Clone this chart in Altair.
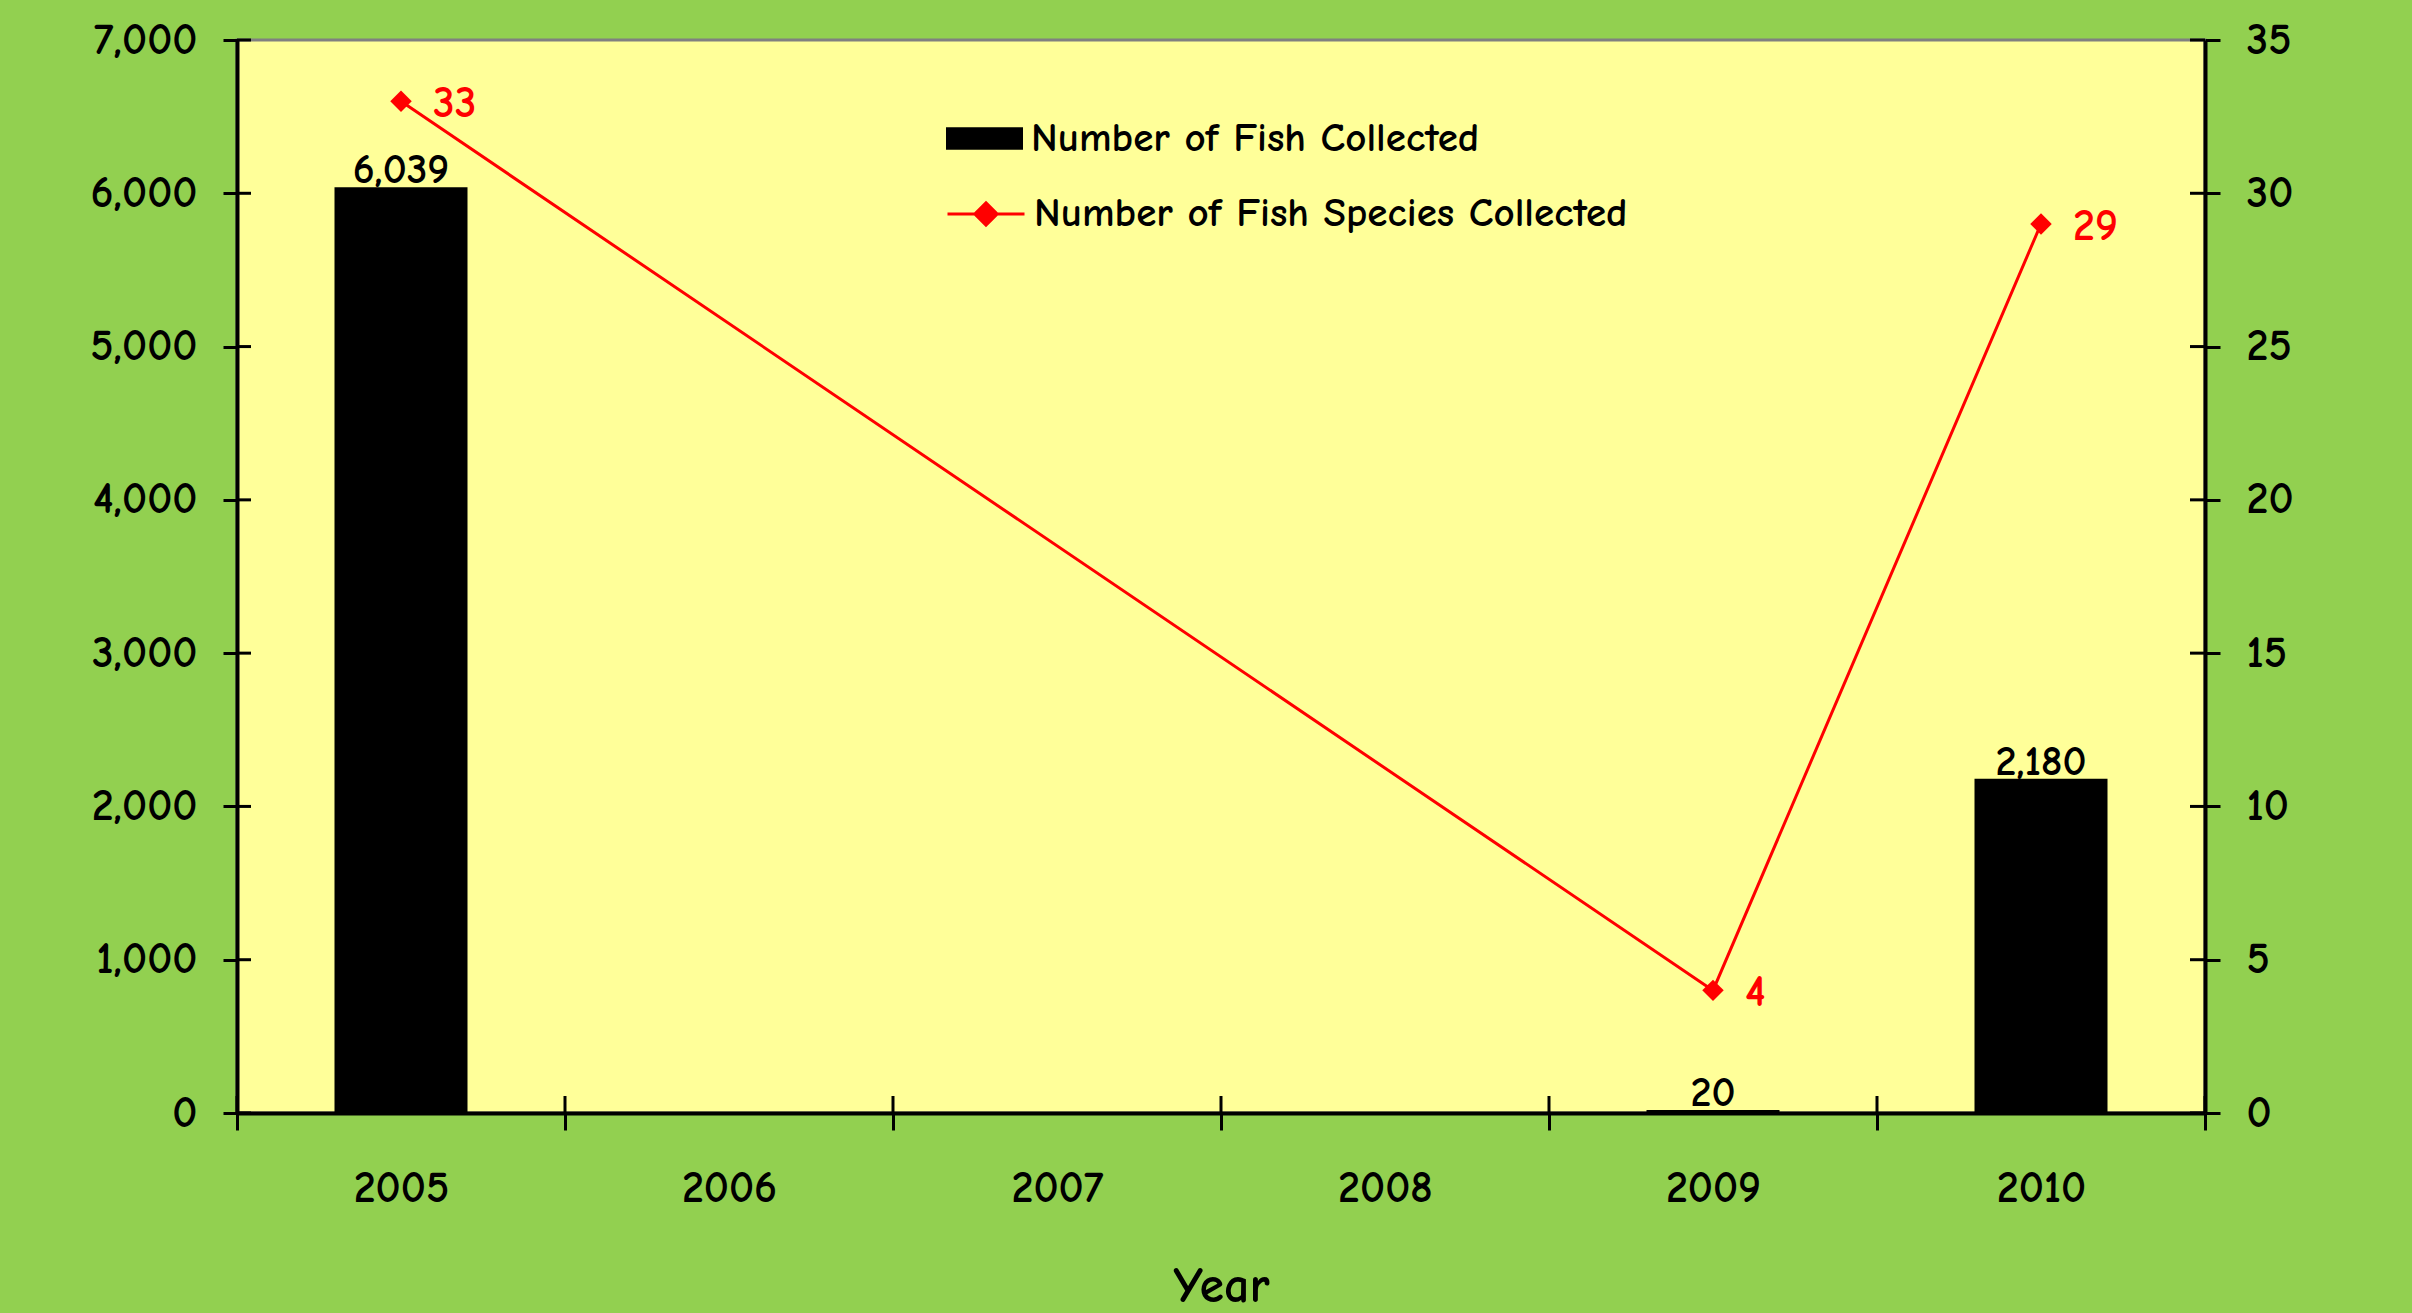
import altair as alt
import pandas as pd

years = ["2005", "2006", "2007", "2008", "2009", "2010"]
fish_years = ["2005", "2009", "2010"]
fish_counts = [6039, 20, 2180]
species_years = ["2005", "2009", "2010"]
species_counts = [33, 4, 29]
left_ticks = [0, 1000, 2000, 3000, 4000, 5000, 6000, 7000]
right_ticks = [0, 5, 10, 15, 20, 25, 30, 35]
bar_name = "Number of Fish Collected"
line_name = "Number of Fish Species Collected"

FONT = "Comic Sans MS, Comic Neue, Lato, sans-serif"
FS = 44
W, H = 1968, 1073

df_fish = pd.DataFrame({"year": fish_years, "count": fish_counts, "series": bar_name})
df_sp = pd.DataFrame({"year": species_years, "count": species_counts, "series": line_name})
df_lt = pd.DataFrame({"v": left_ticks})
df_rt = pd.DataFrame({"v": right_ticks})
df_years = pd.DataFrame({"year": years})
df_last = pd.DataFrame({"year": years[-1:]})


def xscale():
    return alt.Scale(type="band", domain=years, paddingInner=0, paddingOuter=0)


def lscale():
    return alt.Scale(domain=[0, 7000], nice=False, zero=True)


def rscale():
    return alt.Scale(domain=[0, 35], nice=False, zero=True)


xaxis = alt.Axis(
    orient="bottom", tickBand="extent", labelFont=FONT, labelFontSize=FS, labelFontWeight="bold",
    labelColor="black", domainColor="black", domainWidth=4, tickColor="black", tickWidth=3,
    tickSize=17, labelPadding=36, labelAngle=0, title="Year", titleFont=FONT, titleFontSize=50,
    titleFontWeight="bold", titleColor="black", titlePadding=51,
)
x = alt.X("year:N", scale=xscale(), axis=xaxis)
x_noaxis = alt.X("year:N", scale=xscale(), axis=None)

yleft = alt.Y(
    "count:Q", scale=lscale(),
    axis=alt.Axis(
        orient="left", values=left_ticks, labelExpr="format(datum.value, ',')", labelFont=FONT,
        labelFontSize=FS, labelFontWeight="bold", labelColor="black", domainColor="black",
        domainWidth=4, tickColor="black", tickWidth=3, tickSize=14, labelPadding=26, grid=False,
        title=None,
    ),
)
yright = alt.Y(
    "count:Q", scale=rscale(),
    axis=alt.Axis(
        orient="right", values=right_ticks, labelExpr="format(datum.value, 'd')", labelFont=FONT,
        labelFontSize=FS, labelFontWeight="bold", labelColor="black", domainColor="black",
        domainWidth=4, tickColor="black", tickWidth=3, tickSize=15, labelPadding=26, grid=False,
        title=None,
    ),
)

bar_legend = alt.Legend(
    orient="none", legendX=709, legendY=60, title=None, padding=0,
    symbolType="M-1,-0.29H1V0.29H-1Z", symbolSize=5929, symbolFillColor="black",
    symbolStrokeColor="black", symbolStrokeWidth=0, labelFont=FONT, labelFontSize=FS - 3,
    labelFontWeight="bold", labelColor="black", labelOffset=8, labelLimit=0,
)
line_legend = alt.Legend(
    orient="none", legendX=709, legendY=134, title=None, padding=0,
    symbolType="M-1,0H1M0,-0.29L0.29,0L0,0.29L-0.29,0Z", symbolSize=5929,
    symbolFillColor="red", symbolStrokeColor="red", symbolStrokeWidth=3,
    labelFont=FONT, labelFontSize=FS - 3, labelFontWeight="bold", labelColor="black",
    labelOffset=8, labelLimit=0,
)

bars = alt.Chart(df_fish).mark_bar(size=133).encode(
    x=x, y=yleft,
    color=alt.Color("series:N", scale=alt.Scale(domain=[bar_name], range=["black"]), legend=bar_legend),
)
bar_text = alt.Chart(df_fish).mark_text(
    baseline="alphabetic", dy=-4, font=FONT, fontSize=FS - 2, fontWeight="bold", color="black"
).encode(x=x, y=yleft, text=alt.Text("count:Q", format=","))

line = alt.Chart(df_sp).mark_line(
    strokeWidth=3,
    point=alt.OverlayMarkDef(shape="diamond", size=460, filled=True),
).encode(
    x=x_noaxis, y=yright,
    color=alt.Color("series:N", scale=alt.Scale(domain=[line_name], range=["red"]), legend=line_legend),
)
line_text = alt.Chart(df_sp).mark_text(
    align="left", baseline="middle", dx=32, dy=3, font=FONT, fontSize=FS, fontWeight="bold", color="red"
).encode(x=x_noaxis, y=yright, text=alt.Text("count:Q", format="d"))

# inward halves of the crossing tick marks
tick_left = alt.Chart(df_lt).mark_rule(color="black", strokeWidth=3).encode(
    y=alt.Y("v:Q", scale=lscale(), axis=None), x=alt.value(0), x2=alt.value(14)
)
tick_right = alt.Chart(df_rt).mark_rule(color="black", strokeWidth=3).encode(
    y=alt.Y("v:Q", scale=rscale(), axis=None), x=alt.value(W - 15), x2=alt.value(W)
)
tick_x = alt.Chart(df_years).mark_rule(color="black", strokeWidth=3).encode(
    x=alt.X("year:N", scale=xscale(), axis=None, bandPosition=0), y=alt.value(H - 17), y2=alt.value(H)
)
tick_x_end = alt.Chart(df_last).mark_rule(color="black", strokeWidth=3).encode(
    x=alt.X("year:N", scale=xscale(), axis=None, bandPosition=1), y=alt.value(H - 17), y2=alt.value(H)
)

left = alt.layer(bars, bar_text)
right = alt.layer(line, line_text)

chart = alt.layer(left, right, tick_left, tick_right, tick_x, tick_x_end).resolve_scale(
    x="independent", y="independent", color="independent"
).properties(
    width=W, height=H,
    autosize=alt.AutoSizeParams(type="none"),
    padding={"left": 237, "top": 40, "right": 207, "bottom": 200},
    background="#92D050",
).configure_view(fill="#FFFF99", stroke="#808080", strokeWidth=3)

chart.save("out.html", embed_options={"renderer": "svg", "actions": False})
